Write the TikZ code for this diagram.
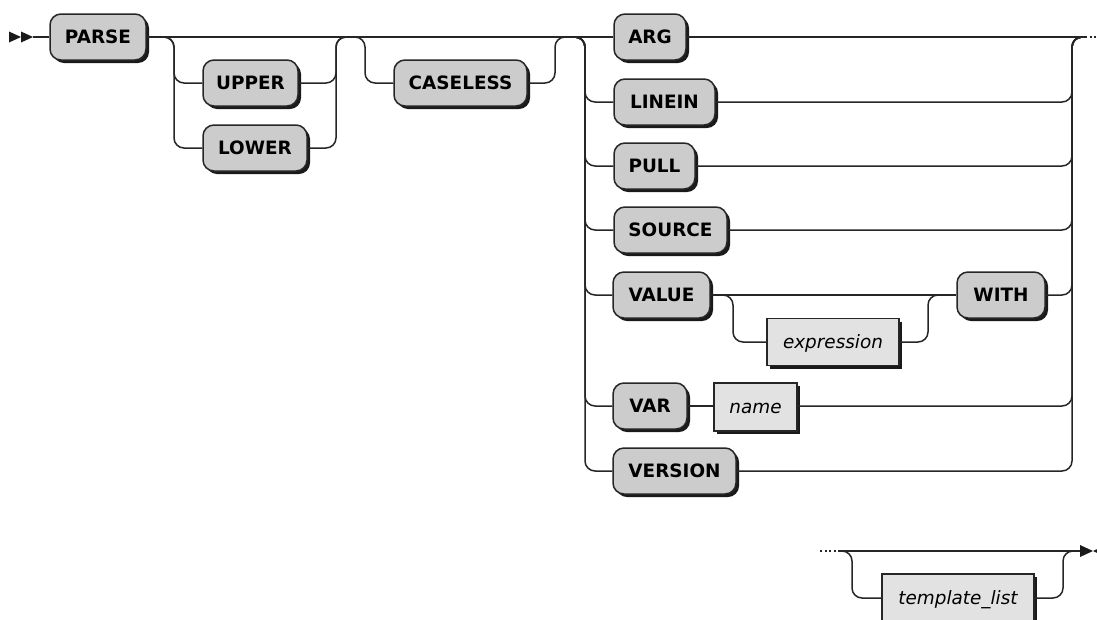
\documentclass[tikz,border=0pt]{standalone}
\usepackage{fontspec}
\setmainfont{DejaVu Sans}
\usetikzlibrary{shadows}
\definecolor{termfill}{HTML}{CCCCCC}
\definecolor{ntfill}{HTML}{E2E2E2}
\definecolor{linec}{HTML}{262626}
\definecolor{shadowc}{HTML}{1A1A1A}
\begin{document}
\begin{tikzpicture}[x=1pt,y=-1pt,
  conn/.style={draw=linec, line width=1.5pt, rounded corners=10pt},
  dotconn/.style={draw=linec, line width=1.5pt, dash pattern=on 2pt off 2.5pt},
  boxbase/.style={draw=linec, line width=1.5pt, minimum height=46pt, inner sep=0pt,
    text height=13.4pt, text depth=0pt, text=black,
    drop shadow={shadow xshift=3pt, shadow yshift=-3pt, opacity=1, fill=shadowc}},
  term/.style={boxbase, fill=termfill, rounded corners=11pt,
    font=\fontsize{18.4}{22}\selectfont\bfseries},
  nterm/.style={boxbase, fill=ntfill, rounded corners=0pt,
    font=\fontsize{18.4}{22}\selectfont\itshape},
  marker/.style={fill=shadowc, draw=none}]
\useasboundingbox (0,0) rectangle (1097,619);
\clip (0,0) rectangle (1097,619);

% nodes
\node[term, minimum width=96pt]  (parse)    at (98,37)    {PARSE};
\node[term, minimum width=95pt]  (upper)    at (250.5,83) {UPPER};
\node[term, minimum width=104pt] (lower)    at (255,148)  {LOWER};
\node[term, minimum width=133pt] (caseless) at (460.5,83) {CASELESS};
\node[term, minimum width=72pt]  (arg)      at (650,37)   {ARG};
\node[term, minimum width=101pt] (linein)   at (664.5,102){LINEIN};
\node[term, minimum width=81pt]  (pull)     at (654.5,166){PULL};
\node[term, minimum width=113pt] (source)   at (670.5,230){SOURCE};
\node[term, minimum width=97pt]  (value)    at (661.5,295){VALUE};
\node[nterm, minimum width=132pt, minimum height=47pt] (expr) at (833,342) {expression};
\node[term, minimum width=88pt]  (with)     at (1001,295) {WITH};
\node[term, minimum width=74pt]  (var)      at (650,406)  {VAR};
\node[nterm, minimum width=83pt, minimum height=48pt] (name) at (755.5,407) {name};
\node[term, minimum width=123pt] (version)  at (674.5,471){VERSION};
\node[nterm, minimum width=152pt, minimum height=48pt] (tl) at (958,598) {template\_list};

% coordinates
\coordinate (st)  at (33,37);
\coordinate (j1a) at (164,37);  \coordinate (j1b) at (346,37);
\coordinate (j2a) at (355,37);  \coordinate (j2b) at (565,37);
\coordinate (j3a) at (575,37);  \coordinate (j3b) at (1082,37);
\coordinate (dA)  at (1085,37); \coordinate (dB)  at (1097,37);
\coordinate (v1) at (174,0);  \coordinate (v2) at (336,0);
\coordinate (v3) at (365,0);  \coordinate (v4) at (555,0);
\coordinate (v5) at (585,0);  \coordinate (v6) at (1072,0);
\coordinate (v7) at (733,0);  \coordinate (v8) at (928,0);
\coordinate (j4a) at (723,295); \coordinate (j4b) at (938,295);
\coordinate (b0) at (820,551); \coordinate (b1) at (838,551);
\coordinate (b2) at (1080,551);
\coordinate (j5a) at (842,551); \coordinate (j5b) at (1073,551);
\coordinate (v9) at (852,0); \coordinate (v10) at (1063,0);

% start marker
\fill[marker] (9,31.5) -- (21,37) -- (9,42.5) -- cycle;
\fill[marker] (21,31.5) -- (33,37) -- (21,42.5) -- cycle;

% main line
\draw[conn] (st) -- (parse.west);
\draw[conn] (parse.east) -- (arg.west);
\draw[conn] (arg.east) -- (dA);
\draw[dotconn] (dA) -- (dB);

% UPPER / LOWER
\draw[conn] (j1a) -| (v1 |- lower) -- (lower.west);
\draw[conn] (j1a) -| (v1 |- upper) -- (upper.west);
\draw[conn] (lower.east) -| (v2 |- j1b) -- (j1b);
\draw[conn] (upper.east) -| (v2 |- j1b) -- (j1b);

% CASELESS
\draw[conn] (j2a) -| (v3 |- caseless) -- (caseless.west);
\draw[conn] (caseless.east) -| (v4 |- j2b) -- (j2b);

% choice
\draw[conn] (j3a) -| (v5 |- version) -- (version.west);
\foreach \b in {linein,pull,source,value,var}{
  \draw[conn] (j3a) -| (v5 |- \b) -- (\b.west);
}
\draw[conn] (version.east) -| (v6 |- j3b) -- (j3b);
\foreach \b in {linein,pull,source,with}{
  \draw[conn] (\b.east) -| (v6 |- j3b) -- (j3b);
}
\draw[conn] (var.east -| name.east) -| (v6 |- j3b) -- (j3b);

% VALUE [expression] WITH
\draw[conn] (value.east) -- (with.west);
\draw[conn] (j4a) -| (v7 |- expr) -- (expr.west);
\draw[conn] (expr.east) -| (v8 |- j4b) -- (j4b);

% VAR name
\draw[conn] (var.east) -- (var.east -| name.west);

% bottom part
\draw[dotconn] (b0) -- (b1);
\draw[conn] (b1) -- (b2);
\draw[conn] (j5a) -| (v9 |- tl) -- (tl.west);
\draw[conn] (tl.east) -| (v10 |- j5b) -- (j5b);
\fill[marker] (1080,545) -- (1093,551) -- (1080,557) -- cycle;
\fill[marker] (1106,545) -- (1093,551) -- (1106,557) -- cycle;
\end{tikzpicture}
\end{document}
